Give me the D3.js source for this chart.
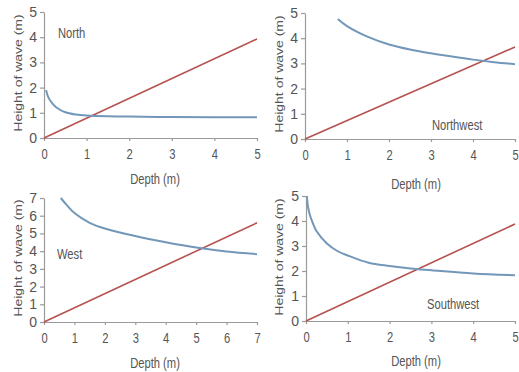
<!DOCTYPE html>
<html>
<head>
<meta charset="utf-8">
<script src="https://cdn.jsdelivr.net/npm/d3@7"></script>
<style>
  body { margin: 0; background: #fff; }
  text { font-family: "Liberation Sans", Arial, sans-serif; fill: #555; }
</style>
</head>
<body>
<svg id="chart" width="519" height="372"></svg>
<script>
// wave height curves (blue) per coast
const northDepth = [0.05, 0.1, 0.2, 0.3, 0.5, 0.75, 1, 1.5, 2, 3, 4, 5];
const northHeight = [1.9, 1.62, 1.36, 1.2, 1.02, 0.93, 0.89, 0.86, 0.85, 0.83, 0.82, 0.82];
const northwestDepth = [0.78, 1, 1.5, 2, 2.5, 3, 3.5, 4, 4.5, 5];
const northwestHeight = [4.76, 4.48, 4.05, 3.75, 3.55, 3.4, 3.27, 3.15, 3.05, 2.97];
const westDepth = [0.55, 0.75, 1, 1.5, 2, 3, 4, 5, 6, 7];
const westHeight = [7, 6.6, 6.15, 5.6, 5.28, 4.85, 4.5, 4.2, 3.98, 3.83];
const southwestDepth = [0.02, 0.05, 0.1, 0.16, 0.25, 0.5, 0.75, 1, 1.5, 2, 2.5, 3, 4, 5];
const southwestHeight = [5, 4.55, 4.2, 3.93, 3.6, 3.1, 2.8, 2.62, 2.33, 2.2, 2.1, 2.03, 1.9, 1.83];

// breaking line (red), straight from origin
const northLine = [0, 3.93];
const northwestLine = [0, 3.65];
const westLine = [0, 5.6];
const southwestLine = [0, 3.88];

const panels = [
  { name: "North", depth: northDepth, height: northHeight, line: northLine, max: 5,
    x: [44, 257], y: [138, 12], label: [58, 38], ylab: [17, 73], xlab: [155, 184] },
  { name: "Northwest", depth: northwestDepth, height: northwestHeight, line: northwestLine, max: 5,
    x: [305, 515], y: [139, 13], label: [432, 130], ylab: [278, 74], xlab: [416, 189] },
  { name: "West", depth: westDepth, height: westHeight, line: westLine, max: 7,
    x: [44, 257], y: [322, 198], label: [57, 259], ylab: [17, 258], xlab: [155, 368] },
  { name: "Southwest", depth: southwestDepth, height: southwestHeight, line: southwestLine, max: 5,
    x: [306, 515], y: [321, 196], label: [427, 309], ylab: [278, 257], xlab: [416, 366] }
];

const svg = d3.select("#chart");
const sx = 0.8; // text in the picture is squeezed sideways

panels.forEach(p => {
  const x = d3.scaleLinear().domain([0, p.max]).range(p.x);
  const y = d3.scaleLinear().domain([0, p.max]).range(p.y);
  const g = svg.append("g");

  const xAxis = g.append("g")
    .attr("transform", "translate(0," + p.y[0] + ")")
    .call(d3.axisBottom(x).ticks(p.max).tickSize(3).tickPadding(8).tickSizeOuter(0));
  const yAxis = g.append("g")
    .attr("transform", "translate(" + p.x[0] + ",0)")
    .call(d3.axisLeft(y).ticks(p.max).tickSize(4).tickPadding(3).tickSizeOuter(0));

  [xAxis, yAxis].forEach(a => {
    a.selectAll("path, line").attr("stroke", "#9a9a9a").attr("stroke-width", 1.2);
    a.selectAll("text").attr("font-size", 14).attr("fill", "#555")
      .style("font-family", "Liberation Sans, Arial, sans-serif");
  });
  xAxis.selectAll(".tick text").attr("transform", "scale(" + sx + ",1)")
    .attr("x", 0);

  // red line
  g.append("path")
    .datum([[0, p.line[0]], [p.max, p.line[1]]])
    .attr("fill", "none")
    .attr("stroke", "#b5514f")
    .attr("stroke-width", 1.6)
    .attr("d", d3.line().x(d => x(d[0])).y(d => y(d[1])));

  // blue curve
  g.append("path")
    .datum(p.depth.map((d, i) => [d, p.height[i]]))
    .attr("fill", "none")
    .attr("stroke", "#7397b9")
    .attr("stroke-width", 2)
    .attr("d", d3.line().curve(d3.curveCatmullRom.alpha(0.5)).x(d => x(d[0])).y(d => y(d[1])));

  g.append("text")
    .attr("transform", "translate(" + p.label[0] + "," + p.label[1] + ") scale(" + sx + ",1)")
    .attr("font-size", 14)
    .text(p.name);

  g.append("text")
    .attr("transform", "translate(" + p.xlab[0] + "," + p.xlab[1] + ") scale(" + sx + ",1)")
    .attr("text-anchor", "middle")
    .attr("font-size", 14)
    .text("Depth (m)");

  g.append("text")
    .attr("transform", "translate(" + (p.ylab[0] + 5) + "," + p.ylab[1] + ") rotate(-90) scale(1," + sx + ")")
    .attr("text-anchor", "middle")
    .attr("font-size", 14)
    .text("Height of wave (m)");
});
</script>
</body>
</html>
